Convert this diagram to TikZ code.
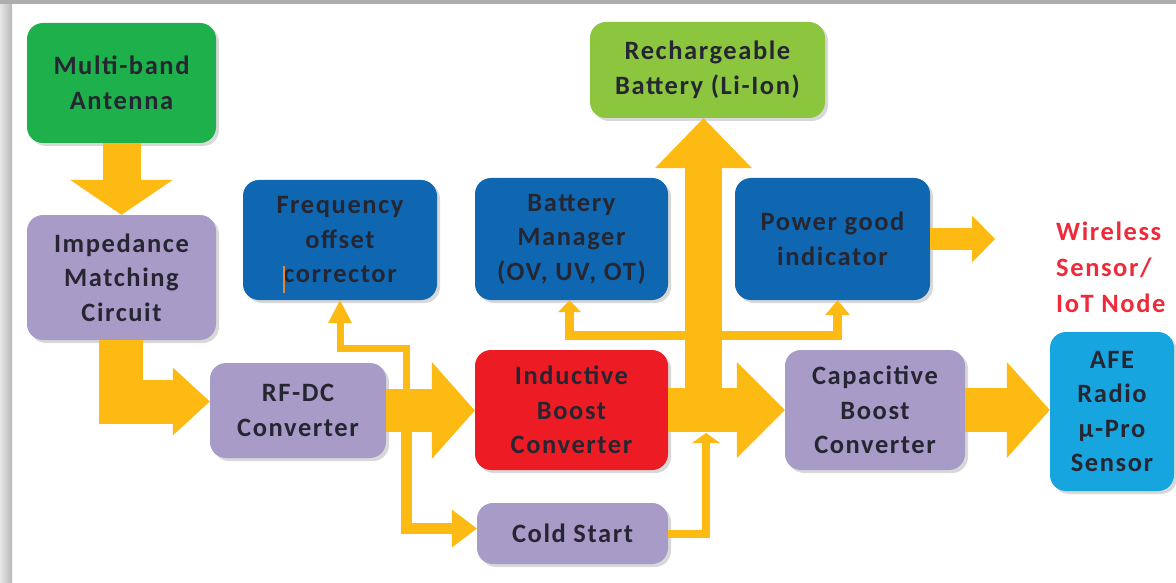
\documentclass[tikz,border=0pt]{standalone}
\usepackage{fontspec}
\setmainfont[LetterSpace=6]{Carlito}
\usetikzlibrary{arrows.meta,shadows,calc}
\definecolor{cgreen}{HTML}{1DB04B}
\definecolor{cpurple}{HTML}{A99BC8}
\definecolor{cblue}{HTML}{0F67B1}
\definecolor{cred}{HTML}{ED1C24}
\definecolor{clgreen}{HTML}{8CC63F}
\definecolor{clblue}{HTML}{17A5E0}
\definecolor{arr}{HTML}{FDBA12}
\definecolor{txt}{HTML}{262632}
\definecolor{wtxt}{HTML}{EE2B3B}
\definecolor{cursorc}{HTML}{E08A2E}
\begin{document}
\begin{tikzpicture}[x=1pt,y=-1pt,
  box/.style={rounded corners=16pt, inner sep=0pt, align=center, text=txt,
    font=\bfseries\fontsize{26.5}{34.5}\selectfont,
    drop shadow={shadow xshift=3pt,shadow yshift=-3pt,opacity=0.3}},
  fat/.style={draw=arr, line width=#1, line join=miter},
  ahead/.style 2 args={-{Triangle[width=#1,length=#2,line width=0pt]}}]
\useasboundingbox (0,0) rectangle (1176,583);
\fill[white] (0,0) rectangle (1176,583);
\shade[left color=black!10, right color=black!28] (0,0) rectangle (12,583);
\fill[black!32] (0,0) rectangle (1176,4);

% nodes
\node[box, fill=cgreen, minimum width=189pt, minimum height=120pt] (ant) at (121.5,83) {Multi-band\\Antenna};
\node[box, fill=cpurple, minimum width=189pt, minimum height=125pt] (imp) at (121.5,277.5) {Impedance\\Matching\\Circuit};
\node[box, fill=cblue, minimum width=194pt, minimum height=120pt] (fo) at (340,240) {Frequency\\offset\\corrector};
\node[box, fill=cpurple, minimum width=176pt, minimum height=95pt] (rfdc) at (298,410.5) {RF-DC\\Converter};
\node[box, fill=cred, minimum width=193pt, minimum height=120pt] (ind) at (571.5,410) {Inductive\\Boost\\Converter};
\node[box, fill=cpurple, minimum width=191pt, minimum height=61pt] (cs) at (572.5,533.5) {Cold Start};
\node[box, fill=clgreen, minimum width=235pt, minimum height=96pt] (bat) at (707.5,70) {Rechargeable\\Battery (Li-Ion)};
\node[box, fill=cblue, minimum width=193pt, minimum height=122pt] (bm) at (571.5,239) {Battery\\Manager\\(OV, UV, OT)};
\node[box, fill=cblue, minimum width=195pt, minimum height=122pt] (pg) at (832.5,239) {Power good\\indicator};
\node[box, fill=cpurple, minimum width=180pt, minimum height=120pt] (cap) at (875,410) {Capacitive\\Boost\\Converter};
\node[box, fill=clblue, minimum width=124pt, minimum height=159pt] (afe) at (1112,411.5) {AFE\\Radio\\µ-Pro\\Sensor};
\node[inner sep=0pt, align=left, anchor=west, text=wtxt, font=\bfseries\fontsize{26.5}{36}\selectfont] (wsn) at (1056,267) {Wireless\\Sensor/\\IoT Node};

\draw[cursorc, line width=1.2pt] (284,266) -- (284,293);

% junction coordinates
\coordinate (jn) at (703.5,400);
\coordinate (pgout) at (995,239);
\coordinate (j1) at (406,411);
\coordinate (j1t) at (406,348);
\coordinate (jc) at (706,433);
\coordinate (jb) at (703.5,335);

% thin connectors
\draw[fat=7pt, ahead={24pt}{23pt}] (j1) -- (j1t) -| (fo.south);
\draw[fat=11pt, ahead={38pt}{25pt}] (j1) |- ([yshift=5pt]cs.west);
\draw[fat=8pt, ahead={28pt}{10pt}] (cs.east) -| (jc);
\draw[fat=9pt, ahead={23pt}{12pt}] (jb) -| ([xshift=-2pt]bm.south);
\draw[fat=9pt, ahead={25pt}{15pt}] (jb) -| ([xshift=5pt]pg.south);

% fat connectors
\draw[fat=38pt, ahead={103pt}{35pt}] (ant.south) -- (imp.north);
\draw[fat=44pt, ahead={68pt}{37pt}] ([xshift=-1pt]imp.south) |- ([yshift=9pt]rfdc.west);
\draw[fat=43pt, ahead={97pt}{43pt}] (rfdc.east) -- (rfdc.east -| ind.west);
\draw[fat=37pt, ahead={97pt}{50pt}] (jn) -- (jn |- bat.south);
\draw[fat=44pt, ahead={96pt}{48pt}] (ind.east) -- (ind.east -| cap.west);
\draw[fat=44pt, ahead={96pt}{43pt}] (cap.east) -- (cap.east -| afe.west);
\draw[fat=22pt, ahead={47pt}{23pt}] (pg.east) -- (pgout);
\end{tikzpicture}
\end{document}
